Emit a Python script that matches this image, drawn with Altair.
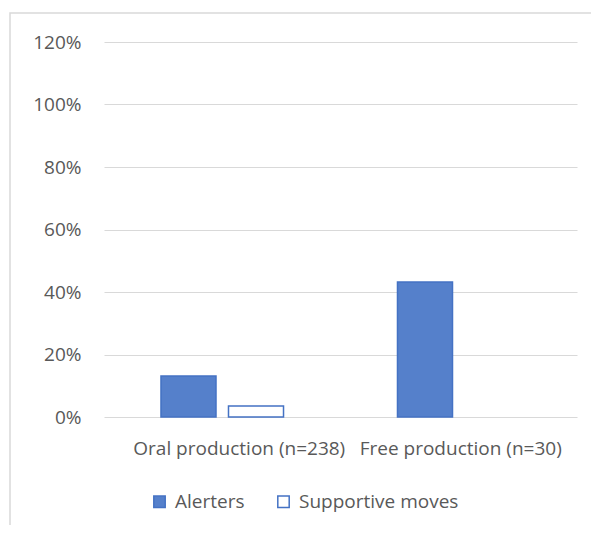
import altair as alt
import pandas as pd

categories = ["Oral production (n=238)", "Free production (n=30)"]
series = ["Alerters", "Supportive moves"]
alerters = [0.131, 0.432]
supportive = [0.035, 0.0]
y_ticks = [0, 0.2, 0.4, 0.6, 0.8, 1.0, 1.2]

rows = []
for i, c in enumerate(categories):
    rows.append({"category": c, "series": series[0], "value": alerters[i]})
    rows.append({"category": c, "series": series[1], "value": supportive[i]})
df = pd.DataFrame(rows)

FONT = "Open Sans"
TXT = "#595959"
GRID = "#d9d9d9"
BLUE = "#4472C4"
FS = 19

bars = alt.Chart(df).transform_filter("datum.value > 0").mark_bar(
    stroke=BLUE, strokeWidth=1.5
).encode(
    x=alt.X(
        "category:N", sort=categories,
        scale=alt.Scale(domain=categories, paddingInner=0, paddingOuter=0),
        axis=alt.Axis(title=None, labelAngle=0, domain=False, ticks=False,
                      labelFontSize=FS, labelColor=TXT, labelFont=FONT,
                      labelPadding=22, labelLimit=0,
                      labelOffset=alt.ExprRef(
                          "datum.value === 'Oral production (n=238)' ? 17 : 2")),
    ),
    xOffset=alt.XOffset("series:N", sort=series,
                        scale=alt.Scale(domain=series, paddingInner=0.185,
                                        paddingOuter=0.844)),
    y=alt.Y(
        "value:Q",
        scale=alt.Scale(domain=[0, 1.2], nice=False),
        axis=alt.Axis(title=None, format=".0%", values=y_ticks, domain=False,
                      ticks=False, grid=True, gridColor=GRID, gridWidth=1.2,
                      labelFontSize=FS, labelColor=TXT, labelFont=FONT,
                      labelPadding=23),
    ),
    color=alt.Color(
        "series:N", sort=series,
        scale=alt.Scale(domain=series, range=["#5580cb", "#ffffff"]),
        legend=alt.Legend(title=None, orient="none", direction="horizontal",
                          legendX=46, legendY=450, symbolType="square",
                          symbolSize=130, symbolStrokeColor=BLUE,
                          symbolStrokeWidth=1.5, labelFontSize=FS,
                          labelColor=TXT, labelFont=FONT, columnPadding=29,
                          labelOffset=6, labelLimit=0),
    ),
)

frame = alt.Chart(pd.DataFrame({"k": [0]})).mark_rect(
    fill="transparent", stroke=GRID, strokeWidth=1.5, clip=False
).encode(
    x=alt.value(-94), x2=alt.value(620), y=alt.value(-29), y2=alt.value(620)
)

chart = alt.layer(frame, bars).properties(
    width=473, height=375,
    autosize=alt.AutoSizeParams(type="none"),
    padding={"left": 96, "top": 34, "right": 14, "bottom": 108},
).configure_view(stroke=None)

chart.save("out.html", embed_options={"renderer": "svg", "actions": False})
